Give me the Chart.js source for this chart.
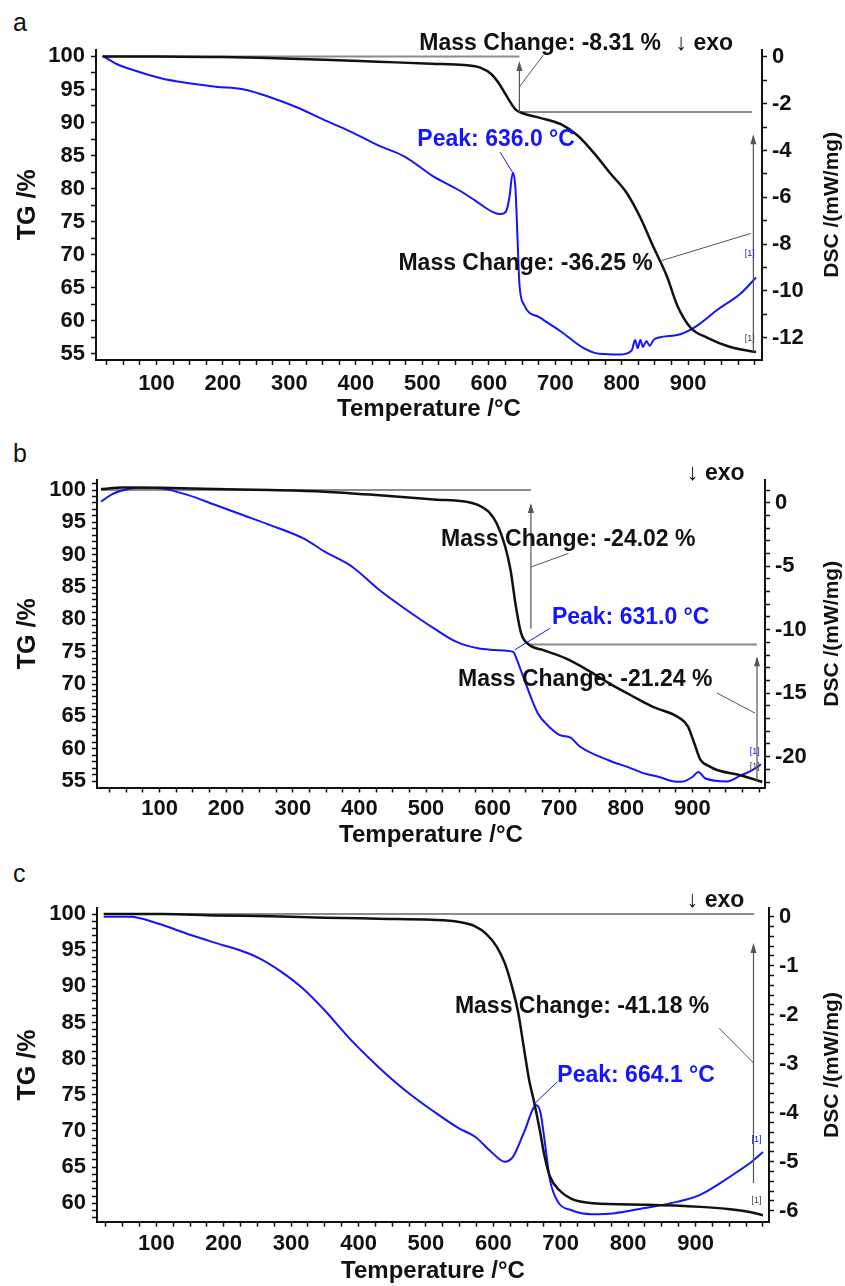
<!DOCTYPE html>
<html>
<head>
<meta charset="utf-8">
<script src="https://cdn.jsdelivr.net/npm/chart.js@4.4.1/dist/chart.umd.min.js"></script>
<style>
  body { margin: 0; background: #fff; width: 845px; height: 1286px; position: relative; overflow: hidden; }
  canvas { position: absolute; left: 0; }
  .letter { position: absolute; left: 13px; font: 25px/25px "Liberation Sans", Arial, sans-serif; color: #111; }
</style>
</head>
<body>
<div class="letter" style="top:10px">a</div>
<div class="letter" style="top:441px">b</div>
<div class="letter" style="top:861px">c</div>
<canvas id="panelA" width="845" height="424" style="top:0"></canvas>
<canvas id="panelB" width="845" height="426" style="top:424px"></canvas>
<canvas id="panelC" width="845" height="440" style="top:846px"></canvas>
<script>
// ─── Data ──────────────────────────────────────────────────────────────────
// x = temperature / °C, TG = mass / %, DSC = heat flow / (mW/mg)

const X_LABELS = [100, 200, 300, 400, 500, 600, 700, 800, 900];

// Panel a
const A_TG_T  = [19, 100, 200, 254, 352, 433, 514, 563, 587, 604, 616, 628, 640, 651, 677, 709, 734, 758, 782, 807, 827, 847, 868, 884, 904, 929, 961, 1002];
const A_TG    = [100, 100, 99.9, 99.8, 99.5, 99.2, 98.9, 98.7, 98.3, 97.3, 95.8, 93.8, 92.0, 91.4, 90.7, 89.7, 88.0, 85.4, 82.4, 79.4, 75.8, 71.3, 66.7, 62.2, 58.9, 57.4, 56.1, 55.25];
const A_DSC_T = [19, 40, 67, 108, 149, 189, 230, 271, 311, 352, 392, 433, 474, 514, 555, 579, 604, 618, 626, 631, 636, 640, 643, 646, 653, 677, 709, 742, 766, 799, 815, 820, 824, 828, 832, 837, 842, 848, 856, 888, 913, 945, 978, 1002];
const A_DSC   = [0.05, -0.3, -0.58, -0.92, -1.12, -1.27, -1.38, -1.72, -2.15, -2.69, -3.19, -3.77, -4.27, -5.06, -5.70, -6.13, -6.60, -6.72, -6.60, -6.0, -4.95, -5.6, -7.6, -9.7, -10.6, -11.15, -11.75, -12.44, -12.69, -12.72, -12.55, -12.1, -12.45, -12.1, -12.4, -12.15, -12.35, -12.1, -12.0, -11.86, -11.5, -10.79, -10.14, -9.43];

// Panel b
const B_TG_T  = [12, 45, 102, 184, 266, 348, 430, 512, 561, 578, 594, 606, 619, 627, 635, 643, 656, 676, 709, 742, 775, 807, 840, 880, 893, 903, 912, 925, 937, 972, 1005];
const B_TG    = [100.15, 100.4, 100.35, 100.15, 100, 99.75, 99.2, 98.55, 98.2, 97.7, 96.65, 94.85, 91.2, 87.6, 81.95, 77.8, 76.0, 75.25, 74.0, 72.2, 70.1, 68.3, 66.5, 64.8, 63.5, 60.8, 58.3, 57.3, 56.7, 55.9, 54.85];
const B_DSC_T = [12, 29, 53, 78, 102, 143, 184, 225, 266, 316, 348, 389, 430, 471, 512, 545, 578, 602, 619, 631, 636, 648, 668, 684, 701, 717, 731, 775, 807, 826, 850, 876, 886, 900, 909, 919, 952, 972, 992, 1003];
const B_DSC   = [0.08, 0.68, 1.08, 1.18, 1.13, 0.6, -0.18, -0.97, -1.76, -2.81, -3.86, -5.04, -6.88, -8.45, -9.9, -10.94, -11.47, -11.6, -11.65, -11.75, -12.3, -14.0, -16.6, -17.6, -18.3, -18.5, -19.2, -20.3, -20.9, -21.3, -21.6, -21.97, -21.95, -21.6, -21.2, -21.7, -21.95, -21.5, -21.0, -20.6];

// Panel c
const C_TG_T  = [22, 110, 189, 269, 349, 429, 509, 549, 573, 589, 605, 617, 629, 637, 645, 653, 661, 669, 676, 684, 698, 716, 748, 828, 908, 948, 980, 1000];
const C_TG    = [100, 100, 99.8, 99.7, 99.5, 99.35, 99.2, 98.9, 98.3, 97.3, 95.5, 93.2, 89.5, 86.3, 81.7, 77.1, 73.8, 70.1, 66.5, 63.7, 61.8, 60.6, 60.0, 59.8, 59.5, 59.2, 58.8, 58.35];
const C_DSC_T = [22, 62, 102, 150, 189, 229, 253, 285, 317, 349, 389, 429, 469, 509, 549, 573, 597, 617, 629, 645, 664, 670, 676, 684, 696, 716, 746, 780, 822, 872, 906, 936, 966, 986, 1000];
const C_DSC   = [0.0, 0.0, -0.14, -0.37, -0.54, -0.71, -0.85, -1.12, -1.46, -1.90, -2.52, -3.06, -3.54, -3.95, -4.32, -4.49, -4.80, -5.0, -4.90, -4.42, -3.85, -4.0, -4.56, -5.37, -5.82, -5.99, -6.07, -6.05, -5.95, -5.82, -5.68, -5.44, -5.17, -4.97, -4.80];

// ─── Styling ───────────────────────────────────────────────────────────────
const FONT_FAMILY = '"Liberation Sans", Arial, Helvetica, sans-serif';
const INK  = '#111111';
const BLUE = '#1414ff';
const GREY = '#8c8c8c';

function _pts(xs, ys) {
    return xs.map((x, i) => ({ x, y: ys[i] }));
}

function _steps(from, to, step) {
    const out = [];
    const n = Math.round((to - from) / step);
    for (let i = 0; i <= n; i++) out.push(+(from + i * step).toFixed(3));
    return out;
}

function _isMultiple(v, m) {
    const r = v / m;
    return Math.abs(r - Math.round(r)) < 1e-6;
}

// Draws the mass-change markers, leaders, peak labels and the right axis title
const annotate = {
    id: 'annotate',
    beforeDatasetsDraw(chart, args, o) {
        const { ctx, scales: { x, y } } = chart;
        const X = v => x.getPixelForValue(v);
        const Y = v => y.getPixelForValue(v);
        ctx.save();
        ctx.strokeStyle = GREY;
        ctx.lineWidth = 2;
        (o.refLines || []).forEach(l => {
            ctx.beginPath();
            ctx.moveTo(X(l.x1), Y(l.y));
            ctx.lineTo(X(l.x2), Y(l.y));
            ctx.stroke();
        });
        ctx.restore();
    },
    afterDatasetsDraw(chart, args, o) {
        const { ctx, chartArea, scales: { x, y } } = chart;
        const X = v => x.getPixelForValue(v);
        const Y = v => y.getPixelForValue(v);
        ctx.save();

        // vertical arrows
        ctx.strokeStyle = '#555';
        ctx.fillStyle = '#555';
        ctx.lineWidth = 1.2;
        (o.arrows || []).forEach(a => {
            const px = X(a.x), p1 = Y(a.y1), p2 = Y(a.y2);
            ctx.beginPath();
            ctx.moveTo(px, p1);
            ctx.lineTo(px, p2);
            ctx.stroke();
            ctx.beginPath();
            ctx.moveTo(px, p2 - 2);
            ctx.lineTo(px - 3, p2 + 8);
            ctx.lineTo(px + 3, p2 + 8);
            ctx.closePath();
            ctx.fill();
        });

        // leader lines
        (o.leaders || []).forEach(l => {
            ctx.strokeStyle = l.color || '#555';
            ctx.lineWidth = 1;
            ctx.beginPath();
            ctx.moveTo(X(l.x1), Y(l.y1));
            ctx.lineTo(X(l.x2), Y(l.y2));
            ctx.stroke();
        });

        // text labels
        ctx.textAlign = 'left';
        ctx.textBaseline = 'middle';
        (o.labels || []).forEach(t => {
            ctx.font = (t.small ? '9px ' : 'bold 23px ') + FONT_FAMILY;
            ctx.fillStyle = t.color || INK;
            ctx.fillText(t.text, X(t.x), Y(t.y));
        });

        // right axis title, reading bottom-to-top like the left one
        ctx.translate(chart.width - 13, (chartArea.top + chartArea.bottom) / 2);
        ctx.rotate(-Math.PI / 2);
        ctx.textAlign = 'center';
        ctx.font = 'bold 21px ' + FONT_FAMILY;
        ctx.fillStyle = INK;
        ctx.fillText('DSC /(mW/mg)', 0, 0);
        ctx.restore();
    }
};

function _axisBase() {
    return {
        grid: { drawOnChartArea: false, drawTicks: true, tickLength: 5, tickColor: INK, tickWidth: 1.5 },
        border: { display: true, color: INK, width: 2 },
    };
}

function renderPanel(canvasId, p) {
    const canvas = document.getElementById(canvasId);
    const H = canvas.height;
    const tickFont = { family: FONT_FAMILY, size: 22, weight: 'bold' };

    new Chart(canvas.getContext('2d'), {
        type: 'line',
        data: {
            datasets: [
                { label: 'TG', data: _pts(p.tgT, p.tg), yAxisID: 'y', borderColor: INK, borderWidth: 2.5,
                  pointRadius: 0, cubicInterpolationMode: 'monotone', order: 0 },
                { label: 'DSC', data: _pts(p.dscT, p.dsc), yAxisID: 'y1', borderColor: BLUE, borderWidth: 2,
                  pointRadius: 0, cubicInterpolationMode: 'monotone', order: 1 },
            ]
        },
        options: {
            responsive: false,
            animation: false,
            layout: { padding: { top: p.top, left: 0, right: 0, bottom: 0 } },
            plugins: { legend: { display: false }, tooltip: { enabled: false }, annotate: p.notes },
            scales: {
                x: {
                    ..._axisBase(),
                    type: 'linear', position: 'bottom', min: p.xMin, max: p.xMax,
                    afterFit: s => { s.height = H - p.bottom; },
                    afterBuildTicks: s => { s.ticks = _steps(25, 1000, 25).map(v => ({ value: v })); },
                    ticks: { autoSkip: false, maxRotation: 0, padding: p.xPad, color: INK, font: tickFont,
                             callback: v => (X_LABELS.includes(v) ? String(v) : '') },
                    title: { display: true, text: 'Temperature /°C', color: INK, padding: 0,
                             font: { family: FONT_FAMILY, size: 24, weight: 'bold' } }
                },
                y: {
                    ..._axisBase(),
                    position: 'left', min: p.tgMin, max: p.tgMax,
                    afterFit: s => { s.width = p.left; },
                    afterBuildTicks: s => { s.ticks = _steps(p.tgTicks[0], p.tgTicks[1], p.tgTicks[2]).map(v => ({ value: v })); },
                    ticks: { autoSkip: false, padding: 6, color: INK, font: tickFont,
                             callback: v => (_isMultiple(v, 5) ? String(v) : '') },
                    title: { display: true, text: 'TG /%', color: INK, padding: { top: 13, bottom: 0 },
                             font: { family: FONT_FAMILY, size: 25, weight: 'bold' } }
                },
                y1: {
                    ..._axisBase(),
                    position: 'right', min: p.dscMin, max: p.dscMax,
                    afterFit: s => { s.width = 845 - p.right; },
                    afterBuildTicks: s => { s.ticks = _steps(p.dscTicks[0], p.dscTicks[1], p.dscTicks[2]).map(v => ({ value: v })); },
                    ticks: { autoSkip: false, padding: 5, color: INK, font: tickFont,
                             callback: v => (_isMultiple(v, p.dscLabelStep) ? String(Math.round(v)) : '') },
                    title: { display: false }
                }
            }
        },
        plugins: [annotate]
    });
}

renderPanel('panelA', {
    tgT: A_TG_T, tg: A_TG, dscT: A_DSC_T, dsc: A_DSC,
    top: 49.5, bottom: 360, left: 96, right: 762, xPad: 6,
    xMin: 9, xMax: 1011,
    tgMin: 54.05, tgMax: 101.05, tgTicks: [55, 100, 2.5],
    dscMin: -12.96, dscMax: 0.32, dscTicks: [-12, 0, 1], dscLabelStep: 2,
    notes: {
        refLines: [{ x1: 19, x2: 646, y: 100 }, { x1: 646, x2: 996, y: 91.6 }],
        arrows: [{ x: 646, y1: 91.6, y2: 99.0 }, { x: 998, y1: 55.2, y2: 87.9 }],
        leaders: [
            { x1: 646, y1: 95.4, x2: 682, y2: 100.2 },
            { x1: 994, y1: 73.2, x2: 860, y2: 69.1 },
            { x1: 636, y1: 82.4, x2: 617, y2: 85.5, color: BLUE },
        ],
        labels: [
            { text: 'Mass Change: -8.31 %', x: 495.5, y: 101.9 },
            { text: '↓ exo', x: 881, y: 101.9 },
            { text: 'Peak: 636.0 °C', x: 492.5, y: 87.4, color: BLUE },
            { text: 'Mass Change: -36.25 %', x: 464, y: 68.7 },
            { text: '[1]', x: 985, y: 70.2, color: BLUE, small: true },
            { text: '[1]', x: 985, y: 57.3, color: '#444', small: true },
        ]
    }
});

renderPanel('panelB', {
    tgT: B_TG_T, tg: B_TG, dscT: B_DSC_T, dsc: B_DSC,
    top: 56, bottom: 363.5, left: 97, right: 765, xPad: 3.5,
    xMin: 6, xMax: 1009,
    tgMin: 54.0, tgMax: 101.55, tgTicks: [55, 101, 1],
    dscMin: -22.43, dscMax: 1.79, dscTicks: [-22, 1, 1], dscLabelStep: 5,
    notes: {
        refLines: [{ x1: 12, x2: 657.5, y: 100 }, { x1: 657.5, x2: 997, y: 76.1 }],
        arrows: [{ x: 657.5, y1: 78.6, y2: 97.7 }, { x: 997, y1: 54.9, y2: 74.0 }],
        leaders: [
            { x1: 657.5, y1: 88.1, x2: 714, y2: 90.2 },
            { x1: 994, y1: 65.5, x2: 937, y2: 68.6 },
            { x1: 633.4, y1: 75.3, x2: 686, y2: 78.6, color: BLUE },
        ],
        labels: [
            { text: 'Mass Change: -24.02 %', x: 522.7, y: 92.3 },
            { text: 'Peak: 631.0 °C', x: 689, y: 80.2, color: BLUE },
            { text: 'Mass Change: -21.24 %', x: 548, y: 70.6 },
            { text: '↓ exo', x: 892, y: 102.6 },
            { text: '[1]', x: 986, y: 59.5, color: BLUE, small: true },
            { text: '[1]', x: 986, y: 57.2, color: '#444', small: true },
        ]
    }
});

renderPanel('panelC', {
    tgT: C_TG_T, tg: C_TG, dscT: C_DSC_T, dsc: C_DSC,
    top: 62.3, bottom: 375.7, left: 97, right: 769, xPad: 4.5,
    xMin: 12, xMax: 1009,
    tgMin: 57.45, tgMax: 100.79, tgTicks: [58, 100, 1],
    dscMin: -6.224, dscMax: 0.171, dscTicks: [-6, 0, 0.2], dscLabelStep: 1,
    notes: {
        refLines: [{ x1: 22, x2: 987, y: 100 }],
        arrows: [{ x: 986, y1: 62.8, y2: 95.7 }],
        leaders: [
            { x1: 986, y1: 79.4, x2: 935, y2: 84.2 },
            { x1: 659.3, y1: 73.6, x2: 695, y2: 76.8, color: BLUE },
        ],
        labels: [
            { text: 'Mass Change: -41.18 %', x: 543, y: 87.2 },
            { text: 'Peak: 664.1 °C', x: 695, y: 77.7, color: BLUE },
            { text: '↓ exo', x: 887, y: 101.9 },
            { text: '[1]', x: 983, y: 68.8, color: BLUE, small: true },
            { text: '[1]', x: 983, y: 60.4, color: '#444', small: true },
        ]
    }
});
</script>
</body>
</html>
